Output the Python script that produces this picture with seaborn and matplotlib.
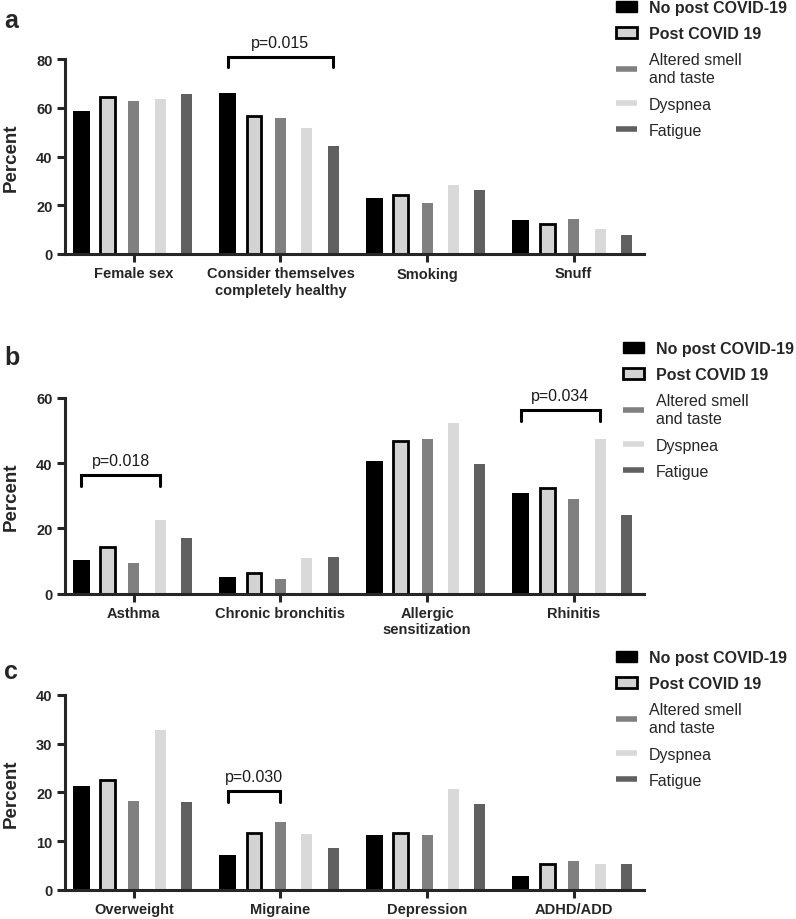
import numpy as np
import pandas as pd
import seaborn as sns
import matplotlib.pyplot as plt
from matplotlib.patches import Patch
from matplotlib.lines import Line2D

# groups (hue) and colours
groups = ['No post COVID-19', 'Post COVID 19', 'Altered smell\nand taste', 'Dyspnea', 'Fatigue']
colors = ['#000000', '#d3d3d3', '#808080', '#d9d9d9', '#606060']

# panel a
cats_a = ['Female sex', 'Consider themselves\ncompletely healthy', 'Smoking', 'Snuff']
no_post_a = [58.5, 66.2, 23.1, 14.0]
post_a = [64.3, 56.7, 24.2, 12.4]
smell_a = [62.6, 55.9, 21.0, 14.5]
dyspnea_a = [63.7, 51.8, 28.4, 10.2]
fatigue_a = [65.6, 44.4, 26.1, 7.6]

# panel b
cats_b = ['Asthma', 'Chronic bronchitis', 'Allergic\nsensitization', 'Rhinitis']
no_post_b = [10.2, 5.1, 40.6, 30.9]
post_b = [14.2, 6.2, 46.9, 32.5]
smell_b = [9.5, 4.5, 47.3, 29.0]
dyspnea_b = [22.6, 10.9, 52.2, 47.5]
fatigue_b = [17.1, 11.2, 39.8, 24.1]

# panel c
cats_c = ['Overweight', 'Migraine', 'Depression', 'ADHD/ADD']
no_post_c = [21.2, 7.1, 11.3, 2.9]
post_c = [22.5, 11.7, 11.7, 5.3]
smell_c = [18.2, 14.0, 11.2, 5.9]
dyspnea_c = [32.7, 11.5, 20.6, 5.3]
fatigue_c = [18.0, 8.5, 17.6, 5.4]

# significance brackets: (category, first group, last group, top, leg bottom, text)
brackets_a = [(1, 0, 4, 80.7, 76.7, 'p=0.015')]
brackets_b = [(0, 0, 3, 36.5, 33.1, 'p=0.018'), (3, 0, 3, 56.4, 53.1, 'p=0.034')]
brackets_c = [(1, 0, 2, 20.3, 18.1, 'p=0.030')]

sns.set_style('ticks')
plt.rcParams['font.family'] = ['Liberation Sans', 'DejaVu Sans']

W, H = 796, 920
fig = plt.figure(figsize=(W / 100, H / 100), dpi=100)

LW = 2.2
bar_widths = [0.115, 0.1, 0.075, 0.075, 0.075]


def long_df(cats, series):
    rows = []
    for g, vals in zip(groups, series):
        for c, v in zip(cats, vals):
            rows.append({'category': c, 'group': g, 'value': v})
    return pd.DataFrame(rows)


def draw_panel(rect, cats, series, ymax, ystep, brackets, letter, letter_y, leg_x, leg_top):
    ax = fig.add_axes(rect)
    df = long_df(cats, series)
    sns.barplot(data=df, x='category', y='value', hue='group', hue_order=groups,
                palette=colors, order=cats, width=0.9, errorbar=None, ax=ax,
                saturation=1, legend=False)
    for i, cont in enumerate(ax.containers):
        for p in cont:
            cx = p.get_x() + p.get_width() / 2
            p.set_width(bar_widths[i])
            p.set_x(cx - bar_widths[i] / 2)
            if i == 1:
                p.set_edgecolor('black')
                p.set_linewidth(2.0)
            else:
                p.set_linewidth(0)

    ax.set_xlim(-0.47, 3.48)
    ax.set_ylim(0, ymax)
    ax.set_yticks(np.arange(0, ymax + 1, ystep))
    ax.set_xlabel('')
    ax.set_ylabel('Percent', fontsize=13.5, fontweight='bold', labelpad=12)
    sns.despine(ax=ax)
    for s in ['left', 'bottom']:
        ax.spines[s].set_linewidth(LW)
    ax.tick_params(axis='both', length=6, width=LW, labelsize=10.5, pad=3)
    for t in ax.get_xticklabels() + ax.get_yticklabels():
        t.set_fontweight('bold')

    for cat, g0, g1, top, leg, txt in brackets:
        p0 = ax.containers[g0][cat]
        p1 = ax.containers[g1][cat]
        x0 = p0.get_x() + p0.get_width() / 2
        x1 = p1.get_x() + p1.get_width() / 2
        ax.plot([x0, x0, x1, x1], [leg, top, top, leg], color='black', lw=LW,
                solid_joinstyle='miter', clip_on=False)
        ax.annotate(txt, ((x0 + x1) / 2, top), xytext=(0, 5), textcoords='offset points',
                    ha='center', va='bottom', fontsize=11.5, color='#1a1a1a',
                    annotation_clip=False)

    fig.text(4 / W, 1 - letter_y / H, letter, fontsize=18, fontweight='bold', va='center')

    handles = [Patch(facecolor=colors[0], edgecolor=colors[0]),
               Patch(facecolor=colors[1], edgecolor='black', linewidth=2.0),
               Line2D([], [], color=colors[2], lw=4, solid_capstyle='butt'),
               Line2D([], [], color=colors[3], lw=4, solid_capstyle='butt'),
               Line2D([], [], color=colors[4], lw=4, solid_capstyle='butt')]
    leg = fig.legend(handles, groups, loc='upper left', bbox_to_anchor=(leg_x / W, 1 - leg_top / H),
                     frameon=False, borderpad=0, borderaxespad=0, fontsize=11.5,
                     handlelength=1.3, handleheight=0.65, handletextpad=0.75, labelspacing=0.7)
    for t in leg.get_texts()[:2]:
        t.set_fontweight('bold')
    for t in leg.get_texts():
        t.set_linespacing(1.25)
    return ax


ax_l, ax_w = 65 / W, (644 - 65) / W
draw_panel([ax_l, 1 - 255 / H, ax_w, 195 / H], cats_a,
           [no_post_a, post_a, smell_a, dyspnea_a, fatigue_a], 80, 20, brackets_a,
           'a', 21, 616, 1)
draw_panel([ax_l, 1 - 594.7 / H, ax_w, 195.7 / H], cats_b,
           [no_post_b, post_b, smell_b, dyspnea_b, fatigue_b], 60, 20, brackets_b,
           'b', 358, 623, 342)
draw_panel([ax_l, 1 - 891 / H, ax_w, 195.3 / H], cats_c,
           [no_post_c, post_c, smell_c, dyspnea_c, fatigue_c], 40, 10, brackets_c,
           'c', 672, 616, 651)

fig.savefig('out.png', dpi=100)
